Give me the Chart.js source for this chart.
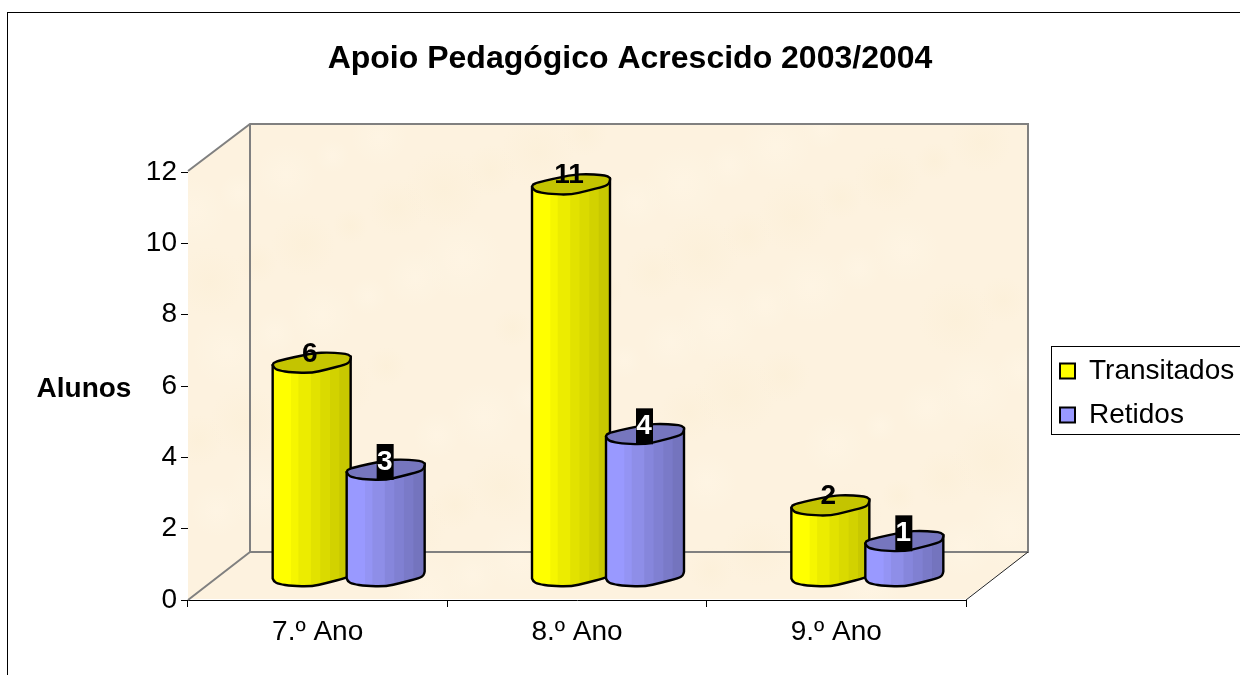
<!DOCTYPE html>
<html>
<head>
<meta charset="utf-8">
<style>html,body{margin:0;padding:0;background:#fff;overflow:hidden}#wrap{width:1240px;height:675px}</style>
<script src="https://cdn.jsdelivr.net/npm/chart.js@4"></script>
</head>
<body>
<div id="wrap"><canvas id="c" width="1240" height="675"></canvas></div>
<script>
const categories = ["7.º Ano", "8.º Ano", "9.º Ano"];
const transitados = [6, 11, 2];
const retidos = [3, 4, 1];
const chartTitle = "Apoio Pedagógico Acrescido 2003/2004";
const yAxisTitle = "Alunos";

const FONT = '"Liberation Sans", Arial, sans-serif';
const DEPTH = {x: 62, y: -47};
const MID = {x: 31, y: -24};
// Irregular cap outline (px relative to cap centre, for a 78px wide cylinder)
const LOWER = [[-39,3],[-38,6],[-33,8.5],[-20,10.5],[0,11],[15,7.5],[34,2.5],[38,0],[39,-4]];
const UPPER = [[39,-5.5],[37,-7.5],[30,-8.8],[16,-9.5],[3,-9],[-17,-5],[-34,-1],[-38,1]];
const STRIP_EDGES = [0, .235, .33, .49, .61, .735, .855, 1];
const STYLES = [
  {strips:['#FFFF00','#F6F600','#ECEC00','#E2E200','#DADA00','#D2D200','#C8C800'], cap:'#C4C400'},
  {strips:['#9999FF','#9494F4','#8E8EE8','#8686DC','#8080D2','#7A7AC8','#7474BE'], cap:'#7676BE'}
];

function trace(ctx, pts, move) {
  if (move) ctx.moveTo(pts[0][0], pts[0][1]); else ctx.lineTo(pts[0][0], pts[0][1]);
  for (let i = 1; i < pts.length - 1; i++) {
    const mx = (pts[i][0] + pts[i+1][0]) / 2, my = (pts[i][1] + pts[i+1][1]) / 2;
    ctx.quadraticCurveTo(pts[i][0], pts[i][1], mx, my);
  }
  const l = pts[pts.length-1];
  ctx.lineTo(l[0], l[1]);
}
const place = (list, cx, cy, k) => list.map(p => [cx + p[0]*k, cy + p[1]]);

function drawCylinder(ctx, cx, topY, baseY, width, style) {
  const k = width / 78;
  const lowTop = place(LOWER, cx, topY, k), lowBase = place(LOWER, cx, baseY, k);
  const upTop = place(UPPER, cx, topY, k);
  const left = cx - 39*k;
  const sidePath = () => {
    ctx.beginPath();
    ctx.moveTo(lowTop[0][0], lowTop[0][1]);
    trace(ctx, lowBase, false);
    ctx.lineTo(upTop[0][0], upTop[0][1]);
    ctx.closePath();
  };
  ctx.save();
  sidePath();
  ctx.clip();
  style.strips.forEach((col, i) => {
    ctx.fillStyle = col;
    ctx.fillRect(left + STRIP_EDGES[i]*width, topY - 20, (STRIP_EDGES[i+1]-STRIP_EDGES[i])*width + 1, baseY - topY + 50);
  });
  ctx.restore();
  ctx.lineWidth = 2.4;
  ctx.lineJoin = 'round';
  ctx.strokeStyle = '#000';
  sidePath();
  ctx.stroke();
  ctx.beginPath();
  trace(ctx, lowTop, true);
  trace(ctx, upTop, false);
  ctx.closePath();
  ctx.fillStyle = style.cap;
  ctx.fill();
  ctx.stroke();
}

function drawWalls(chart) {
  const {ctx, chartArea: a} = chart;
  const L = a.left, R = a.right, T = a.top - 1, B = a.bottom - 1, dx = DEPTH.x, dy = DEPTH.y;
  const wall = '#FDF2DF';
  ctx.save();
  ctx.fillStyle = wall;
  ctx.beginPath(); ctx.moveTo(L,T); ctx.lineTo(L+dx,T+dy); ctx.lineTo(R+dx,T+dy); ctx.lineTo(R+dx,B+dy); ctx.lineTo(R,B); ctx.lineTo(L,B); ctx.closePath(); ctx.fill();
  // soft parchment mottling (background texture only)
  ctx.save(); ctx.clip();
  for (let i = 1; i <= 90; i++) {
    const u = (i * 0.61803) % 1, v = (i * 0.75488) % 1;
    const x = L + u * (R + dx - L), y = T + dy + v * (B - T - dy), r = 16 + (i * 0.5698) % 1 * 26;
    const g = ctx.createRadialGradient(x, y, 0, x, y, r);
    const c = i % 2 ? '255,247,232' : '251,238,212';
    g.addColorStop(0, 'rgba(' + c + ',0.45)');
    g.addColorStop(1, 'rgba(' + c + ',0)');
    ctx.fillStyle = g;
    ctx.fillRect(x - r, y - r, 2*r, 2*r);
  }
  ctx.restore();
  ctx.strokeStyle = '#808080';
  ctx.lineWidth = 2;
  ctx.beginPath();
  ctx.moveTo(L, T); ctx.lineTo(L+dx, T+dy); ctx.lineTo(R+dx, T+dy); ctx.lineTo(R+dx, B+dy); ctx.lineTo(L+dx, B+dy); ctx.lineTo(L+dx, T+dy);
  ctx.moveTo(L+dx, B+dy); ctx.lineTo(L, B+1);
  ctx.stroke();
  ctx.strokeStyle = '#222';
  ctx.lineWidth = 1;
  ctx.beginPath(); ctx.moveTo(R, B+1); ctx.lineTo(R+dx, B+dy); ctx.stroke();
  ctx.restore();
}

function drawLabels(chart) {
  const ctx = chart.ctx;
  ctx.save();
  ctx.textAlign = 'center';
  ctx.textBaseline = 'middle';
  ctx.font = 'bold 28px ' + FONT;
  chart.data.datasets.forEach((ds, d) => {
    chart.getDatasetMeta(d).data.forEach((bar, i) => {
      const cx = bar.x + MID.x, cy = bar.y + MID.y;
      const text = String(ds.data[i]);
      if (d === 0) {
        ctx.fillStyle = '#000';
        ctx.fillText(text, cx - 2, cy - 8);
      } else {
        ctx.fillStyle = '#000';
        ctx.fillRect(cx - 9, cy - 25, 17, 36);
        ctx.fillStyle = '#fff';
        ctx.fillText(text, cx - 1, cy - 7);
      }
    });
  });
  ctx.restore();
}

const scene = {
  id: 'scene',
  beforeLayout(chart) {
    const lg = chart.legend;
    if (lg && !lg._wrapped) {
      const f = lg.fit;
      lg.fit = function () { f.call(this); this.width = 274; };
      lg._wrapped = true;
    }
  },
  beforeDraw(chart) {
    const {ctx, width, height} = chart;
    ctx.save();
    ctx.fillStyle = '#fff';
    ctx.fillRect(0, 0, width, height);
    ctx.strokeStyle = '#000';
    ctx.lineWidth = 1;
    ctx.strokeRect(7.5, 12.5, 1400, 900);
    ctx.strokeRect(1051.5, 346.5, 400, 88);
    ctx.restore();
    chart.titleBlock.left = 20;
    chart.titleBlock.right = 1240;
    const lg = chart.legend;
    lg.left = 1044; lg.right = 1240; lg.top = 341; lg.bottom = 675;
  },
  beforeDatasetsDraw(chart) {
    const ctx = chart.ctx;
    drawWalls(chart);
    chart.data.datasets.forEach((ds, d) => {
      chart.getDatasetMeta(d).data.forEach(bar => {
        drawCylinder(ctx, bar.x + MID.x, bar.y + MID.y, bar.base + MID.y, bar.width, STYLES[d]);
      });
    });
    drawLabels(chart);
    ctx.save();
    ctx.font = 'bold 28px ' + FONT;
    ctx.fillStyle = '#000';
    ctx.textAlign = 'center';
    ctx.textBaseline = 'middle';
    ctx.fillText(yAxisTitle, 84, 389);
    ctx.restore();
    return false;
  }
};

new Chart(document.getElementById('c'), {
  type: 'bar',
  plugins: [scene],
  data: {
    labels: categories,
    datasets: [
      {label: 'Transitados', data: transitados, backgroundColor: '#FFFF00', borderColor: '#000', borderWidth: 2},
      {label: 'Retidos', data: retidos, backgroundColor: '#9999FF', borderColor: '#000', borderWidth: 2}
    ]
  },
  options: {
    responsive: false,
    animation: false,
    devicePixelRatio: 1,
    categoryPercentage: 0.5707,
    barPercentage: 1.054,
    layout: {padding: 0},
    plugins: {
      tooltip: {enabled: false},
      title: {
        display: true,
        text: chartTitle,
        color: '#000',
        font: {family: FONT, size: 32, weight: 'bold'},
        padding: {top: 40, bottom: 93.6}
      },
      legend: {
        display: true,
        position: 'right',
        align: 'start',
        labels: {color: '#000', font: {family: FONT, size: 28}, boxWidth: 15, boxHeight: 15, padding: 16}
      }
    },
    scales: {
      x: {
        afterFit(s) { s.height = 75; },
        grid: {drawOnChartArea: false, tickLength: 7, color: '#000'},
        border: {color: '#000', width: 1},
        ticks: {color: '#000', font: {family: FONT, size: 28}, padding: 8, maxRotation: 0}
      },
      y: {
        min: 0, max: 12,
        afterFit(s) { s.width = 188; },
        grid: {drawOnChartArea: false, tickLength: 7, color: '#000'},
        border: {color: '#000', width: 1},
        ticks: {color: '#000', font: {family: FONT, size: 28}, padding: 4, stepSize: 2}
      }
    }
  }
});
</script>
</body>
</html>
